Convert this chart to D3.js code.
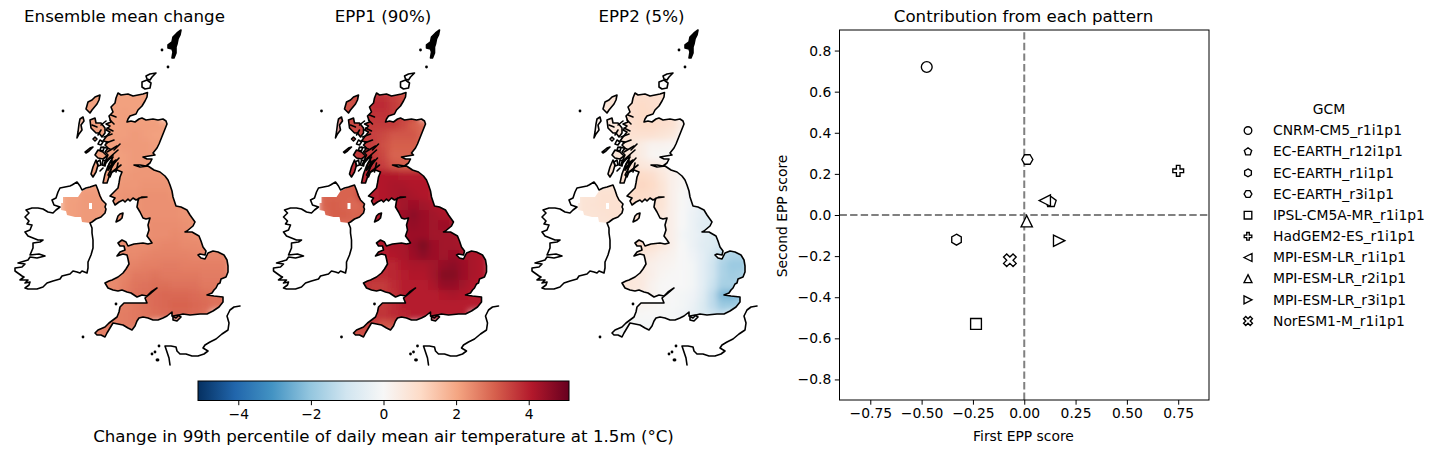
<!DOCTYPE html>
<html><head><meta charset="utf-8">
<script src="https://cdn.jsdelivr.net/npm/d3@7"></script>
<style>html,body{margin:0;padding:0;background:#fff}svg{display:block}text{font-family:"DejaVu Sans",sans-serif;fill:#000}</style>
</head><body><svg id="c" width="1440" height="454"></svg>
<script>
// ---------- data ----------
const panelTitles = ["Ensemble mean change","EPP1 (90%)","EPP2 (5%)"];
const colorbarLabel = "Change in 99th percentile of daily mean air temperature at 1.5m (°C)";
const cbarTicks = [-4,-2,0,2,4];
const rdbuStops = ["#053061","#2166ac","#4393c3","#92c5de","#d1e5f0","#f7f7f7","#fddbc7","#f4a582","#d6604d","#b2182b","#67001f"];

const gcmNames = ["CNRM-CM5_r1i1p1","EC-EARTH_r12i1p1","EC-EARTH_r1i1p1","EC-EARTH_r3i1p1","IPSL-CM5A-MR_r1i1p1","HadGEM2-ES_r1i1p1","MPI-ESM-LR_r1i1p1","MPI-ESM-LR_r2i1p1","MPI-ESM-LR_r3i1p1","NorESM1-M_r1i1p1"];
const gcmMarkers = ["o","p","h","H","s","P","<","^",">","X"];
const epp1Score = [-0.475,0.13,-0.33,0.015,-0.235,0.75,0.10,0.012,0.17,-0.07];
const epp2Score = [0.72,0.063,-0.12,0.27,-0.53,0.215,0.07,-0.03,-0.125,-0.22];
const xTickValues = [-0.75,-0.5,-0.25,0,0.25,0.5,0.75];
const yTickValues = [-0.8,-0.6,-0.4,-0.2,0,0.2,0.4,0.6,0.8];

// coast outlines, map-grid units
const coastGB = [[118,93],[121,95],[128,94],[133,96],[138,95],[143,94],[147.5,92.5],[147,97],[145,101],[142,106],[138,110],[136,114],[130,116],[128,119],[127,122],[131,121],[135,122],[139,119],[142,118],[146,120],[153,119],[158,120],[163,119],[166,121],[167,124],[165,129],[163,134],[161,139],[159,144],[157,148],[153,153],[155,155],[149,156],[143,157],[147,159],[152,159],[150,163],[146,166],[140,165],[134,165],[140,167],[148,166],[154,170],[160,172],[165,176],[168,180],[170,185],[172,191],[173,197],[176,206],[181,207],[187,210],[190,215],[195,222],[193,226],[187,231],[185,232],[192,232],[199,236],[201,241],[203,247],[206,251],[205,255],[200,254],[198,255],[201,258],[205,259],[208,253],[213,251],[218,252],[224,255],[227,260],[228,266],[228,272],[226,277],[221,279],[220,283],[218,284],[216,288],[214,290],[212,293],[207,295],[214,296],[223,297],[223,302],[219,307],[213,311],[207,314],[200,314],[190,315],[183,314],[179,315],[176,318],[172,316],[172,312],[167,316],[163,318],[158,320],[153,320],[148,318],[143,317],[139,318],[137,321],[135,326],[132,330],[128,328],[123,325],[118,324],[113,323],[110,328],[107,333],[105,337],[101,335],[97,335],[95,333],[98,330],[105,327],[109,323],[113,320],[117,317],[119,312],[120,307],[124,303],[132,303],[140,303],[147,303],[145,298],[150,294],[157,288],[151,292],[147,296],[142,295],[137,297],[131,293],[127,292],[122,290],[118,291],[113,290],[108,288],[105,283],[109,281],[112,280],[118,277],[123,273],[126,269],[129,264],[128,259],[127,255],[123,254],[117,256],[120,252],[125,250],[124,246],[120,246],[118,243],[122,240],[126,242],[128,246],[134,244],[143,243],[148,244],[152,243],[150,240],[147,236],[149,230],[148,225],[150,218],[146,219],[143,218],[140,212],[137,207],[138,201],[139,198],[147,197],[142,197],[136,200],[133,198],[130,201],[128,199],[125,202],[123,200],[119,202],[115,205],[113,201],[115,198],[110,196],[114,192],[118,188],[119,183],[120,177],[122,172],[117,170],[112,172],[110,177],[108,175],[112,167],[116,160],[113,162],[108,170],[109,164],[113,157],[108,159],[104,164],[108,155],[105,152],[108,148],[105,145],[108,142],[103,141],[106,137],[110,132],[106,130],[110,126],[106,124],[111,122],[109,116],[113,112],[111,107],[115,103],[116,98]];
const coastIreland = [[77,182],[80,186],[82,190],[86,188],[90,187],[96,185],[98,190],[100,196],[102,200],[106,204],[105,207],[106,209],[105,213],[101,217],[96,219],[92,222],[90,223],[92,228],[92,233],[93,240],[93,248],[91,255],[88,262],[88,268],[87,273],[82,271],[80,273],[77,272],[73,271],[70,274],[62,276],[60,279],[53,281],[47,283],[43,287],[37,289],[33,289],[28,289],[25,288],[29,285],[30,282],[25,283],[28,280],[20,280],[24,277],[22,276],[15,271],[15,268],[22,267],[25,264],[18,263],[28,260],[30,257],[37,258],[45,256],[39,254],[30,255],[33,248],[33,243],[40,242],[43,240],[38,240],[33,238],[28,236],[25,232],[30,230],[32,225],[27,224],[29,221],[25,217],[29,213],[26,210],[32,208],[38,208],[43,209],[48,212],[53,213],[56,210],[60,207],[54,205],[52,200],[56,198],[58,192],[60,188],[65,187],[70,186],[72,185]];
const islandsDark = [[[181,30],[180,35],[178,39],[177,44],[176,47],[176,53],[174,58],[172,58],[173,52],[172,49],[168,48],[168,45],[172,42],[173,37],[177,33]]];
const coastOrkney = [[[142,82],[147,80],[151,83],[150,88],[145,89],[142,87]],[[146,76],[150,74],[156,73],[152,77],[150,80],[147,79]]];
const coastIslands = [
 [[100,95],[99,100],[97,104],[92,110],[90,113],[86,109],[88,102],[92,100],[95,97]],
 [[83,117],[84,121],[81,125],[82,130],[79,134],[77,138],[78,132],[79,124],[80,119]],
 [[90,120],[95,118],[96,123],[101,123],[105,128],[105,133],[102,137],[99,133],[96,133],[91,128]],
 [[85,152],[90,148],[93,147],[89,151],[86,153]],
 [[98,150],[103,152],[107,156],[103,159],[98,158],[95,155]],
 [[93,167],[96,160],[98,165],[96,172],[93,177],[91,174]],
 [[112,160],[112,165],[110,174],[107,183],[103,183],[105,174],[108,166]],
 [[123,213],[122,218],[120,220],[116,222],[118,216],[120,214]],
 [[95,137],[97,139],[95,141],[93,139]],
 [[173,316],[178,315],[181,317],[177,321],[173,320]],
 [[100,140],[103,142],[101,145],[98,144]],
 [[97,162],[100,160],[101,165],[98,166]],
 [[103,160],[106,161],[105,166],[102,165]],
 [[101,147],[104,148],[103,151],[100,150]]
];
const coastLochs = [[[107,128],[113,131]],[[104,137],[112,134]],[[106,143],[114,140]],[[103,147],[110,149]],[[107,152],[117,146]],[[109,158],[118,150]],[[104,165],[113,155]],[[108,170],[119,158]],[[112,172],[121,165]],[[116,172],[118,163]],[[101,125],[106,121]],[[92,125],[97,127]],[[101,130],[98,135]],[[110,120],[114,124]],[[111,115],[116,117]],[[100,171],[103,168]],[[114,150],[120,144]]];
const coastDots = [[162,50],[168,67],[63,111],[83,337],[116,304],[159,346],[152,354],[158,360],[155,352],[157,360]];
const coastFrance = [[240,306],[234,307],[230,310],[227,316],[229,323],[228,330],[222,334],[216,339],[210,342],[205,345],[203,348],[208,351],[204,354],[198,356],[192,356],[186,354],[180,354],[177,351],[176,347],[171,346],[165,346],[167,352],[169,358],[170,365]];
// hand-read Northern Ireland data footprint
const niData = [[63,197],[78,197],[82,191],[90,187],[96,185],[98,190],[101,196],[103,201],[106,205],[106,209],[104,214],[100,218],[94,220],[90,223],[82,222],[81,217],[75,217],[67,215],[66,211],[61,210],[61,203],[63,203]];
const niGap = [[89,203],[92,203],[92,209],[89,209]];

const gridX = [65,75,85,95,105,115,125,135,145,155,165,175,185,195,205,215,225];
const gridY = [95,105,115,125,135,145,155,165,175,185,195,205,215,225,235,245,255,265,275,285,295,305,315,325,335];
const _ = null;
const fieldMean = [
[_,_,2.1,2.1,2.1,2.1,2.1,2.1,2.1,2.1,_,_,_,_,_,_,_],
[_,_,2.1,2.1,2.1,2.1,2.1,2.1,2.1,2.1,_,_,_,_,_,_,_],
[_,_,2.1,2.1,2.1,2.1,2.15,2.1,2.1,2.1,_,_,_,_,_,_,_],
[_,_,2.1,2.1,2.1,2.1,2.15,2.15,2.15,2.15,2.1,2.1,_,_,_,_,_],
[_,_,2.1,2.1,2.1,2.15,2.15,2.2,2.15,2.1,2.1,2.1,_,_,_,_,_],
[_,_,2.1,2.1,2.1,2.15,2.2,2.2,2.2,2.15,2.1,_,_,_,_,_,_],
[_,_,2.1,2.1,2.1,2.1,2.15,2.2,2.2,2.15,2.1,_,_,_,_,_,_],
[_,_,2.1,2.1,2.1,2.1,2.15,2.2,2.25,2.2,2.15,_,_,_,_,_,_],
[_,_,2.1,2.1,2.15,2.15,2.2,2.25,2.25,2.25,2.25,2.2,_,_,_,_,_],
[2.1,2.1,2.1,2.1,2.15,2.2,2.25,2.25,2.3,2.3,2.3,2.25,2.2,_,_,_,_],
[2.1,2.1,2.2,2.2,2.2,2.25,2.3,2.3,2.35,2.35,2.35,2.3,2.25,_,_,_,_],
[2.1,2.15,2.2,2.2,2.2,2.25,2.3,2.3,2.35,2.35,2.35,2.35,2.3,2.3,_,_,_],
[2.1,2.15,2.2,2.2,2.15,2.2,2.3,2.3,2.35,2.35,2.35,2.35,2.3,2.3,_,_,_],
[2.1,2.15,2.2,2.2,2.15,2.2,2.3,2.3,2.35,2.4,2.4,2.4,2.35,2.3,2.3,_,_],
[_,_,_,_,2.2,2.3,2.35,2.35,2.35,2.4,2.4,2.45,2.4,2.35,2.35,2.3,_],
[_,_,_,_,2.35,2.4,2.4,2.4,2.4,2.45,2.5,2.5,2.45,2.45,2.4,2.4,2.4],
[_,_,_,2.4,2.4,2.4,2.45,2.45,2.5,2.55,2.55,2.55,2.55,2.5,2.5,2.5,2.5],
[_,_,_,2.4,2.4,2.45,2.5,2.55,2.6,2.6,2.65,2.65,2.6,2.6,2.6,2.6,2.6],
[_,_,_,2.4,2.4,2.45,2.55,2.7,2.7,2.75,2.7,2.7,2.7,2.7,2.65,2.65,2.65],
[_,_,_,2.4,2.4,2.45,2.6,2.75,2.8,2.85,2.85,2.8,2.8,2.8,2.7,2.7,2.7],
[_,_,_,2.45,2.45,2.5,2.65,2.8,2.85,2.9,2.95,2.95,2.95,2.9,2.85,2.8,2.8],
[_,_,_,2.5,2.5,2.55,2.6,2.7,2.8,2.9,2.95,3.0,3.0,2.95,2.9,2.8,2.8],
[_,_,_,2.55,2.6,2.6,2.65,2.7,2.75,2.85,2.9,2.95,2.95,2.9,2.8,_,_],
[_,_,_,2.6,2.6,2.6,2.65,2.7,2.7,_,_,_,_,_,_,_,_],
[_,_,_,2.6,2.6,2.6,2.6,_,_,_,_,_,_,_,_,_,_]];
const fieldEpp1 = [
[_,_,3.2,3.3,3.4,3.7,3.7,3.5,3.3,3.2,_,_,_,_,_,_,_],
[_,_,3.2,3.3,3.4,3.8,3.8,3.6,3.4,3.3,_,_,_,_,_,_,_],
[_,_,3.3,3.4,3.5,3.7,3.7,3.6,3.5,3.5,_,_,_,_,_,_,_],
[_,_,3.4,3.4,3.5,3.6,3.6,3.6,3.4,3.1,2.9,2.8,_,_,_,_,_],
[_,_,3.4,3.4,3.5,3.5,3.4,3.2,3.2,3.2,2.9,2.7,_,_,_,_,_],
[_,_,3.5,3.5,3.6,3.5,3.3,3.1,3.1,3.1,3.0,_,_,_,_,_,_],
[_,_,3.5,3.6,3.6,3.6,3.4,3.0,3.0,3.0,3.0,_,_,_,_,_,_],
[_,_,3.6,3.7,3.7,3.7,3.5,3.2,3.1,3.1,3.1,_,_,_,_,_,_],
[_,_,3.7,3.8,3.9,4.0,4.1,4.1,4.0,4.0,4.0,3.9,_,_,_,_,_],
[3.0,3.0,3.0,3.0,3.9,4.0,4.1,4.2,4.2,4.1,4.1,4.0,4.0,_,_,_,_],
[3.0,3.0,3.0,3.0,4.0,4.0,4.1,4.2,4.3,4.2,4.1,4.0,4.0,_,_,_,_],
[3.0,3.1,3.0,2.9,3.0,4.0,4.1,4.1,4.3,4.4,4.3,4.2,4.1,4.1,_,_,_],
[2.9,3.1,3.1,3.0,3.0,4.0,4.1,4.1,4.4,4.6,4.4,4.3,4.2,4.1,_,_,_],
[2.9,2.9,2.9,2.9,3.0,4.0,4.1,4.1,4.4,4.5,4.4,4.3,4.4,4.3,4.1,_,_],
[_,_,_,_,4.0,4.1,4.1,4.2,4.3,4.4,4.4,4.3,4.3,4.3,4.1,4.0,_],
[_,_,_,_,4.2,4.2,4.1,4.2,4.2,4.5,4.8,4.4,4.3,4.3,4.2,4.0,4.0],
[_,_,_,4.1,4.1,4.0,4.0,4.1,4.2,4.4,4.6,4.4,4.3,4.4,4.3,4.2,4.1],
[_,_,_,4.0,4.0,3.9,3.8,3.9,4.1,4.2,4.2,4.3,4.5,4.6,4.4,4.2,4.1],
[_,_,_,3.9,3.8,3.8,3.8,3.9,4.0,4.1,4.1,4.3,4.7,4.7,4.4,4.2,4.1],
[_,_,_,3.8,3.7,3.6,3.6,3.8,4.0,4.0,4.0,4.2,4.5,4.5,4.3,4.1,4.0],
[_,_,_,3.8,3.7,3.6,3.6,3.7,4.0,4.0,4.0,4.0,4.1,4.2,4.1,4.0,4.0],
[_,_,_,3.7,3.6,3.6,3.6,3.8,4.0,4.0,4.0,4.0,4.0,4.0,4.0,4.0,4.0],
[_,_,_,3.5,3.6,3.7,3.7,3.8,3.9,4.0,4.0,4.0,4.0,4.0,4.0,_,_],
[_,_,_,3.3,3.4,3.5,3.2,3.3,3.6,_,_,_,_,_,_,_,_],
[_,_,_,3.3,3.3,3.3,3.3,_,_,_,_,_,_,_,_,_,_]];
const fieldEpp2 = [
[_,_,0.6,0.7,0.8,0.9,0.9,0.9,0.8,0.7,_,_,_,_,_,_,_],
[_,_,0.6,0.7,0.8,0.9,1.0,0.9,0.8,0.7,_,_,_,_,_,_,_],
[_,_,0.6,0.7,0.8,0.9,1.0,1.0,0.9,0.8,_,_,_,_,_,_,_],
[_,_,0.5,0.6,0.8,0.9,1.0,1.0,0.9,0.8,0.4,0.1,_,_,_,_,_],
[_,_,0.5,0.6,0.7,0.8,0.8,0.8,0.7,0.6,0.2,-0.1,_,_,_,_,_],
[_,_,0.4,0.5,0.6,0.6,0.4,0.2,0.2,0.1,0,_,_,_,_,_,_],
[_,_,0.5,0.6,0.7,0.6,0.4,0.1,0.05,0.05,0,_,_,_,_,_,_],
[_,_,0.6,0.7,0.8,0.8,0.6,0.5,0.4,0.2,0.1,_,_,_,_,_,_],
[_,_,0.7,0.8,0.8,0.9,1.0,0.9,0.6,0.3,0.1,0.0,_,_,_,_,_],
[0.7,0.7,0.7,0.7,1.0,1.0,1.1,1.0,0.7,0.3,0.1,0,-0.1,_,_,_,_],
[0.7,0.7,0.8,0.8,0.8,1.0,1.0,0.9,0.7,0.3,0.05,-0.2,-0.3,_,_,_,_],
[0.7,0.75,0.8,0.8,0.8,0.9,0.9,0.9,0.7,0.3,0.05,-0.2,-0.5,-0.5,_,_,_],
[0.7,0.7,0.75,0.8,0.8,0.8,0.8,0.8,0.6,0.3,0,-0.3,-0.5,-0.6,_,_,_],
[0.7,0.7,0.7,0.7,0.7,0.8,0.8,0.8,0.6,0.3,0,-0.3,-0.6,-0.7,-0.7,_,_],
[_,_,_,_,0.9,0.9,0.9,0.8,0.6,0.3,-0.1,-0.3,-0.5,-0.7,-0.8,-0.9,_],
[_,_,_,_,1.3,1.2,0.9,0.8,0.6,0.3,0,-0.3,-0.6,-0.7,-0.9,-1.1,-1.2],
[_,_,_,0.7,0.7,0.7,0.6,0.5,0.3,0.2,0,-0.2,-0.5,-0.9,-1.4,-1.6,-1.6],
[_,_,_,0.6,0.6,0.6,0.5,0.3,0.2,0.1,0,-0.1,-0.5,-1.0,-1.6,-1.9,-1.9],
[_,_,_,0.6,0.6,0.6,0.5,0.3,0.1,0.05,0,-0.1,-0.5,-1.0,-1.6,-1.8,-1.7],
[_,_,_,0.6,0.6,0.6,0.5,0.2,0.05,0,0,-0.1,-0.5,-1.1,-1.7,-1.7,-1.6],
[_,_,_,0.5,0.6,0.5,0.4,0.2,0.05,0,-0.1,-0.2,-0.6,-1.3,-2.3,-2.4,-1.9],
[_,_,_,0.2,0.2,0.2,0.15,0.1,0.05,-0.05,-0.1,-0.3,-0.7,-1.3,-1.9,-1.9,-1.7],
[_,_,_,0.05,0.05,0.05,0.05,0,-0.05,-0.1,-0.2,-0.4,-0.7,-1.0,-1.2,_,_],
[_,_,_,0,-0.1,-0.1,-0.1,-0.1,-0.1,_,_,_,_,_,_,_,_],
[_,_,_,0,-0.1,-0.1,-0.1,_,_,_,_,_,_,_,_,_,_]];
const panelFields = [fieldMean, fieldEpp1, fieldEpp2];
const panelOffsets = [0, 258.5, 517];
const titleCenters = [124.5, 383, 641.5];

// ---------- chart ----------
const svg = d3.select("#c");
const defs = svg.append("defs");
const colorDomain = [-5.11,5.11];
const color = d3.scaleLinear()
  .domain(d3.range(11).map(i => colorDomain[0] + (colorDomain[1]-colorDomain[0])*i/10))
  .range(rdbuStops).interpolate(d3.interpolateRgb);

defs.append("filter").attr("id","soft").attr("x","-5%").attr("y","-5%").attr("width","110%").attr("height","110%")
  .append("feGaussianBlur").attr("stdDeviation",3);

const font = {tick:13.89, title:16.67};
panelFields.forEach((field,p)=>{
  const ox = panelOffsets[p];
  const x = d3.scaleLinear().domain([0,240]).range([ox,ox+240]);
  const y = d3.scaleLinear().domain([0,400]).range([0,400]);
  const line = d3.line().x(d=>x(d[0])).y(d=>y(d[1]));
  const closed = d3.line().x(d=>x(d[0])).y(d=>y(d[1])).curve(d3.curveLinearClosed);
  const cx = d3.scaleBand().domain(gridX).range([x(60),x(230)]);
  const cy = d3.scaleBand().domain(gridY).range([y(90),y(340)]);

  const clip = defs.append("clipPath").attr("id","land"+p);
  [coastGB, niData].concat(coastIslands.slice(0,10)).forEach(poly=>clip.append("path").attr("d",closed(poly)));

  const land = svg.append("g").attr("clip-path",`url(#land${p})`);
  const soft = land.append("g").attr("filter","url(#soft)");
  const cells = [];
  field.forEach((row,r)=>row.forEach((v,c)=>{ if(v!==null) cells.push({x:gridX[c],y:gridY[r],v}); }));
  soft.selectAll("rect").data(cells).join("rect")
    .attr("x",d=>cx(d.x)).attr("y",d=>cy(d.y))
    .attr("width",cx.bandwidth()+0.6).attr("height",cy.bandwidth()+0.6)
    .attr("fill",d=>color(d.v));
  land.append("path").attr("d",closed(niGap)).attr("fill","#fff");

  const coast = svg.append("g").attr("fill","none").attr("stroke","#000").attr("stroke-width",1.6).attr("stroke-linejoin","round").attr("stroke-linecap","round");
  coast.append("path").attr("d",closed(coastGB));
  coast.append("path").attr("d",closed(coastIreland));
  coast.selectAll(".isl").data(coastIslands).join("path").attr("class","isl").attr("d",closed);
  coast.selectAll(".ork").data(coastOrkney).join("path").attr("class","ork").attr("d",closed);
  coast.selectAll(".shet").data(islandsDark).join("path").attr("class","shet").attr("d",closed).attr("fill","#000");
  coast.selectAll(".loch").data(coastLochs).join("path").attr("class","loch").attr("d",line);
  coast.append("path").attr("d",line(coastFrance));
  svg.append("g").selectAll("circle").data(coastDots).join("circle")
    .attr("cx",d=>x(d[0])).attr("cy",d=>y(d[1])).attr("r",1.4).attr("fill","#000");

  svg.append("text").attr("x",titleCenters[p]).attr("y",22).attr("text-anchor","middle")
    .attr("font-size",font.title).text(panelTitles[p]);
});

// colour bar
const cbX = d3.scaleLinear().domain(colorDomain).range([198,569]);
const grad = defs.append("linearGradient").attr("id","cb");
rdbuStops.forEach((c,i)=>grad.append("stop").attr("offset",i*10+"%").attr("stop-color",c));
svg.append("rect").attr("x",198).attr("y",381).attr("width",371).attr("height",19.5)
  .attr("fill","url(#cb)").attr("stroke","#000").attr("stroke-width",1);
const cbAxis = svg.append("g").attr("transform","translate(0,400.5)")
  .call(d3.axisBottom(cbX).tickValues(cbarTicks).tickSize(4.7).tickPadding(3.5).tickFormat(d3.format("d")));
cbAxis.select(".domain").remove();
cbAxis.selectAll("text").attr("font-size",font.tick).style("font-family",'"DejaVu Sans"');
svg.append("text").attr("x",383.5).attr("y",442).attr("text-anchor","middle").attr("font-size",font.title).text(colorbarLabel);

// scatter
const sx = d3.scaleLinear().domain([-0.9,0.9]).range([839.5,1209]);
const sy = d3.scaleLinear().domain([-0.9,0.9]).range([400,30]);
const ax = svg.append("g");
ax.append("line").attr("x1",sx(0)).attr("x2",sx(0)).attr("y1",sy(-0.9)).attr("y2",sy(0.9))
  .attr("stroke","#808080").attr("stroke-width",2).attr("stroke-dasharray","7.4 3.2");
ax.append("line").attr("x1",sx(-0.9)).attr("x2",sx(0.9)).attr("y1",sy(0)).attr("y2",sy(0))
  .attr("stroke","#808080").attr("stroke-width",2).attr("stroke-dasharray","7.4 3.2");

function poly(n,r,rot){ return d3.range(n).map(i=>{const a=rot+i*2*Math.PI/n;return [r*Math.sin(a),-r*Math.cos(a)];}); }
const plus = [[-1,-3],[1,-3],[1,-1],[3,-1],[3,1],[1,1],[1,3],[-1,3],[-1,1],[-3,1],[-3,-1],[-1,-1]];
function markerPath(m,s){ // s = half width
  const P = pts => "M"+pts.map(p=>p[0].toFixed(2)+","+p[1].toFixed(2)).join("L")+"Z";
  switch(m){
    case "o": return d3.arc()({innerRadius:0,outerRadius:s,startAngle:0,endAngle:2*Math.PI});
    case "p": return P(poly(5,s*1.02,0));
    case "h": return P(poly(6,s*1.02,0));
    case "H": return P(poly(6,s*1.02,Math.PI/6));
    case "s": return P([[-s,-s],[s,-s],[s,s],[-s,s]]);
    case "P": return P(plus.map(p=>[p[0]*s/3,p[1]*s/3]));
    case "X": return P(plus.map(p=>{const q=s*0.36;return [(p[0]-p[1])*q*0.707*1.15,(p[0]+p[1])*q*0.707*1.15];}));
    case "^": return P([[0,-s*1.05],[s*1.05,s*1.05],[-s*1.05,s*1.05]]);
    case "<": return P([[-s*1.05,0],[s*1.05,-s*1.05],[s*1.05,s*1.05]]);
    case ">": return P([[s*1.05,0],[-s*1.05,-s*1.05],[-s*1.05,s*1.05]]);
  }
}
svg.append("g").selectAll("path").data(gcmNames).join("path")
  .attr("transform",(d,i)=>`translate(${sx(epp1Score[i])},${sy(epp2Score[i])})`)
  .attr("d",(d,i)=>markerPath(gcmMarkers[i],5.4))
  .attr("fill","#fff").attr("stroke","#000").attr("stroke-width",1.35);

svg.append("rect").attr("x",839.5).attr("y",30).attr("width",369.5).attr("height",370)
  .attr("fill","none").attr("stroke","#000").attr("stroke-width",1);
const xA = svg.append("g").attr("transform","translate(0,400)")
  .call(d3.axisBottom(sx).tickValues(xTickValues).tickSize(4.7).tickPadding(3.5).tickFormat(d3.format(".2f")));
const yA = svg.append("g").attr("transform","translate(839.5,0)")
  .call(d3.axisLeft(sy).tickValues(yTickValues).tickSize(4.7).tickPadding(3.5).tickFormat(d3.format(".1f")));
[xA,yA].forEach(a=>{a.select(".domain").remove();a.selectAll("text").attr("font-size",font.tick).style("font-family",'"DejaVu Sans"');});
svg.append("text").attr("x",1023.5).attr("y",22).attr("text-anchor","middle").attr("font-size",font.title).text("Contribution from each pattern");
svg.append("text").attr("x",1023.5).attr("y",441).attr("text-anchor","middle").attr("font-size",font.tick).text("First EPP score");
svg.append("text").attr("transform","translate(786.5,216) rotate(-90)").attr("text-anchor","middle").attr("font-size",font.tick).text("Second EPP score");

// legend
const legendY = d3.scalePoint().domain(gcmNames).range([130.5,321]);
const lg = svg.append("g");
lg.append("text").attr("x",1329).attr("y",114).attr("text-anchor","middle").attr("font-size",font.tick).text("GCM");
gcmNames.forEach((n,i)=>{
  lg.append("path").attr("transform",`translate(1248,${legendY(n)})`).attr("d",markerPath(gcmMarkers[i],3.8))
    .attr("fill","#fff").attr("stroke","#000").attr("stroke-width",1.35);
  lg.append("text").attr("x",1273).attr("y",legendY(n)+4.8).attr("font-size",font.tick).text(n);
});
</script></body></html>
